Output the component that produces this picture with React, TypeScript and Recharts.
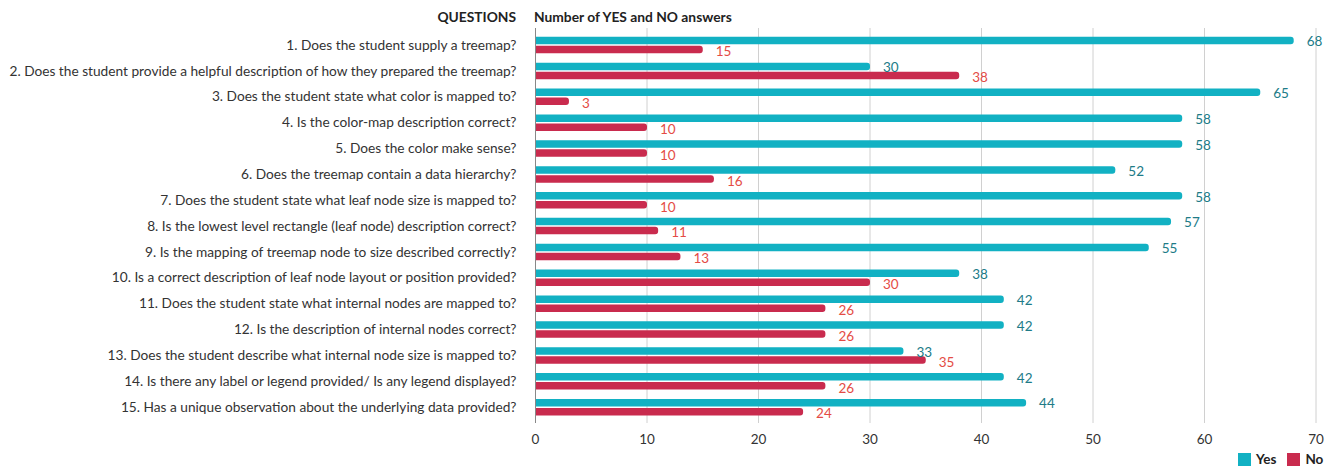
import React from "react";
import { BarChart, Bar, XAxis, YAxis, CartesianGrid, LabelList } from "recharts";

const questions = [
  "1. Does the student supply a treemap?",
  "2. Does the student provide a helpful description of how they prepared the treemap?",
  "3. Does the student state what color is mapped to?",
  "4. Is the color-map description correct?",
  "5. Does the color make sense?",
  "6. Does the treemap contain a data hierarchy?",
  "7. Does the student state what leaf node size is mapped to?",
  "8. Is the lowest level rectangle (leaf node) description correct?",
  "9. Is the mapping of treemap node to size described correctly?",
  "10. Is a correct description of leaf node layout or position provided?",
  "11. Does the student state what internal nodes are mapped to?",
  "12. Is the description of internal nodes correct?",
  "13. Does the student describe what internal node size is mapped to?",
  "14. Is there any label or legend provided/ Is any legend displayed?",
  "15. Has a unique observation about the underlying data provided?",
];
const yesValues = [68, 30, 65, 58, 58, 52, 58, 57, 55, 38, 42, 42, 33, 42, 44];
const noValues = [15, 38, 3, 10, 10, 16, 10, 11, 13, 30, 26, 26, 35, 26, 24];
const xTicks = [0, 10, 20, 30, 40, 50, 60, 70];

const data = questions.map((q, i) => ({ q, yes: yesValues[i], no: noValues[i] }));

const FONT = "Lato, 'Noto Sans', sans-serif";
const TEAL = "#12b1c3";
const RED = "#c92b4e";
const TEAL_LABEL = "#207b87";
const RED_LABEL = "#e44b45";

const QuestionTick = (props: any) => {
  const { x, y, payload } = props;
  return (
    <text x={x} y={y} dy="0.36em" textAnchor="end" fill="#333" fontSize={13.7} fontFamily={FONT}>
      {payload.value}
    </text>
  );
};

export default function App() {
  return (
    <div style={{ position: "absolute", left: 0, top: 0, width: 1337, height: 467, fontFamily: FONT, background: "#fff" }}>
      <div style={{ position: "absolute", right: 1337 - 516, top: 8, fontSize: 13.8, fontWeight: 700, color: "#222" }}>QUESTIONS</div>
      <div style={{ position: "absolute", left: 534, top: 8, fontSize: 13.8, fontWeight: 700, color: "#222" }}>Number of YES and NO answers</div>
      <BarChart
        width={1337}
        height={467}
        layout="vertical"
        data={data}
        margin={{ top: 28, right: 21, bottom: 14, left: 0 }}
        barSize={7.5}
        barGap={1.5}
      >
        <CartesianGrid horizontal={false} vertical={true} stroke="#d0d0d0" />
        <XAxis
          type="number"
          domain={[0, 70]}
          ticks={xTicks}
          axisLine={false}
          tickLine={false}
          tickSize={0}
          tickMargin={11}
          height={30}
          tick={{ fill: "#333", fontSize: 13.5, fontFamily: FONT }}
        />
        <YAxis
          type="category"
          dataKey="q"
          width={535.5}
          axisLine={{ stroke: "#888" }}
          tickLine={false}
          tickSize={0}
          tickMargin={19}
          padding={{ top: 3.8, bottom: 3.2 }}
          interval={0}
          tick={<QuestionTick />}
        />
        <Bar dataKey="yes" fill={TEAL} radius={[0, 3, 3, 0]} isAnimationActive={false}>
          <LabelList dataKey="yes" position="right" offset={13} fill={TEAL_LABEL} fontSize={13.5} fontFamily={FONT} dy={1} />
        </Bar>
        <Bar dataKey="no" fill={RED} radius={[0, 3, 3, 0]} isAnimationActive={false}>
          <LabelList dataKey="no" position="right" offset={13} fill={RED_LABEL} fontSize={13.5} fontFamily={FONT} dy={2} />
        </Bar>
      </BarChart>
      <div style={{ position: "absolute", left: 1238, top: 451, display: "flex", alignItems: "center", fontSize: 13.5, fontWeight: 700, color: "#222" }}>
        <span style={{ display: "inline-block", width: 13, height: 13, background: TEAL, marginRight: 5 }} />
        <span style={{ marginRight: 11 }}>Yes</span>
        <span style={{ display: "inline-block", width: 13, height: 13, background: RED, marginRight: 5 }} />
        <span>No</span>
      </div>
    </div>
  );
}
